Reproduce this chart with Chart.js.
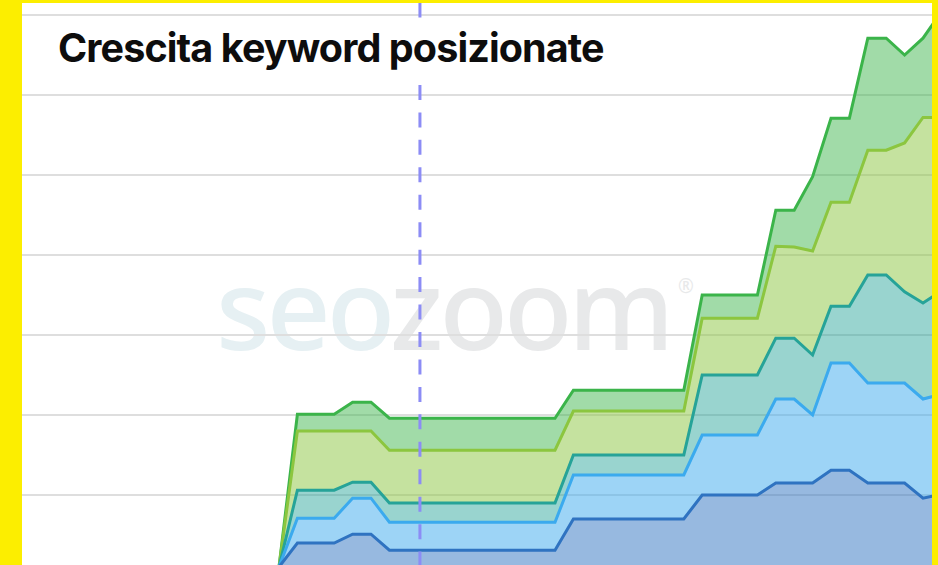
<!DOCTYPE html>
<html>
<head>
<meta charset="utf-8">
<script src="https://cdn.jsdelivr.net/npm/chart.js@4/dist/chart.umd.min.js"></script>
<style>
  html, body { margin: 0; padding: 0; background: #fcee00; overflow: hidden; }
  #wrap { position: relative; width: 938px; height: 565px; overflow: hidden; background: #fcee00; }
  #inner { position: absolute; left: 22px; top: 3px; width: 910px; height: 562px; overflow: hidden; background: #ffffff; }
  #wm { position: absolute; left: 194px; top: 248px; font-family: "Noto Sans", sans-serif; font-weight: 500;
        font-size: 112px; line-height: 112px; letter-spacing: -4px; white-space: nowrap; z-index: 0; }
  #wm .a { color: #e6f0f3; }
  #wm .b { color: #e8e9ea; }
  #wm .r { position: absolute; left: 462px; top: 26px; font-size: 19px; line-height: 19px; letter-spacing: 0; color: #e8e9ea; font-weight: 400; }
  #c { position: absolute; left: -22px; top: -3px; z-index: 1; }
  #titlebox { position: absolute; left: 0; top: 16px; width: 620px; height: 64px; background: #ffffff; z-index: 2; }
  #title { position: absolute; left: 36px; top: 9px; font-family: Inter, "Noto Sans", sans-serif; font-weight: 700;
           font-size: 39.5px; line-height: 40px; letter-spacing: -0.9px; color: #0d0d0d; white-space: nowrap; }
</style>
</head>
<body>
<div id="wrap">
  <div id="inner">
    <div id="wm"><span class="a">seo</span><span class="b">zoom</span><span class="r">®</span></div>
    <canvas id="c" width="960" height="600"></canvas>
    <div id="titlebox"><div id="title">Crescita keyword posizionate</div></div>
  </div>
</div>
<script>
// ---- data (stacked keyword counts per period, bottom to top) ----
const SERIES_NAMES = ["Top 3", "Top 4-10", "Top 11-20", "Top 21-50", "Top 51-100"];
const TOP_3     = [0,0,0,0,0,0,0,0,0,0,0,0,0,0,0, 30,30,30,41,41, 21,21,21,21,21,21,21,21,21,21, 60,60,60,60,60,60,60, 90,90,90,90, 105,105,105, 121,121, 105,105,105, 86,91];
const TOP_4_10  = [0,0,0,0,0,0,0,0,0,0,0,0,0,0,0, 31,31,31,45,45, 35,35,35,35,35,35,35,35,35,35, 55,55,55,55,55,55,55, 75,75,75,75, 105,105,85, 134,134, 125,125,125, 124,125];
const TOP_11_20 = [0,0,0,0,0,0,0,0,0,0,0,0,0,0,0, 35,35,35,20,20, 24,24,24,24,24,24,24,24,24,24, 25,25,25,25,25,25,25, 75,75,75,75, 76,76,75, 71,71, 135,135,114, 120,129];
const TOP_21_50 = [0,0,0,0,0,0,0,0,0,0,0,0,0,0,0, 74,74,74,64,64, 66,66,66,66,66,66,66,66,66,66, 55,55,55,55,55,55,55, 71,71,71,71, 115,114,130, 130,130, 156,156,186, 232,217];
const TOP_51_100= [0,0,0,0,0,0,0,0,0,0,0,0,0,0,0, 21,21,21,36,36, 40,40,40,40,40,40,40,40,40,40, 26,26,26,26,26,26,26, 29,29,29,29, 45,46,93, 105,105, 140,140,110, 99,132];
const CATEGORIES = TOP_3.map((_, i) => "P" + (i + 1));
const GRID_TICKS = [-10, 90, 190, 290, 390, 490, 590, 690];
const Y_MIN = -41.25, Y_MAX = 708.75;
const MARKER_INDEX = 21.66;   // dashed event marker (between periods)

const LINE_COLORS = ["#2f73c1", "#3baaee", "#26a398", "#8cc63f", "#3bb44a"];
const FILL_COLORS = ["rgba(47,115,193,0.5)", "rgba(59,170,238,0.5)", "rgba(38,163,152,0.47)", "rgba(140,198,63,0.5)", "rgba(59,180,74,0.48)"];
const SERIES = [TOP_3, TOP_4_10, TOP_11_20, TOP_21_50, TOP_51_100];

const markerPlugin = {
  id: "marker",
  afterDatasetsDraw(chart) {
    const ctx = chart.ctx;
    const x = chart.scales.x.getPixelForValue(MARKER_INDEX);
    ctx.save();
    ctx.strokeStyle = "#8c8cf5";
    ctx.lineWidth = 3;
    ctx.setLineDash([15, 12.45]);
    ctx.beginPath();
    ctx.moveTo(x, 2.6);
    ctx.lineTo(x, chart.height);
    ctx.stroke();
    ctx.restore();
  }
};

new Chart(document.getElementById("c"), {
  type: "line",
  data: {
    labels: CATEGORIES,
    datasets: SERIES.map((vals, i) => ({
      label: SERIES_NAMES[i],
      data: vals,
      borderColor: LINE_COLORS[i],
      backgroundColor: FILL_COLORS[i],
      borderWidth: 3,
      pointRadius: 0,
      tension: 0,
      fill: i === 0 ? "origin" : "-1"
    }))
  },
  options: {
    responsive: false,
    animation: false,
    devicePixelRatio: 1,
    layout: { padding: { left: 21.4, right: 18.6, top: 0, bottom: 0 } },
    plugins: { legend: { display: false }, tooltip: { enabled: false }, title: { display: false } },
    scales: {
      x: { display: false },
      y: {
        stacked: true,
        min: Y_MIN, max: Y_MAX,
        afterFit(s) { s.width = 0; },
        afterBuildTicks(s) { s.ticks = GRID_TICKS.map(v => ({ value: v })); },
        ticks: { display: false },
        grid: { color: "#dedede", lineWidth: 2, drawTicks: false },
        border: { display: false }
      }
    }
  },
  plugins: [markerPlugin]
});
</script>
</body>
</html>
